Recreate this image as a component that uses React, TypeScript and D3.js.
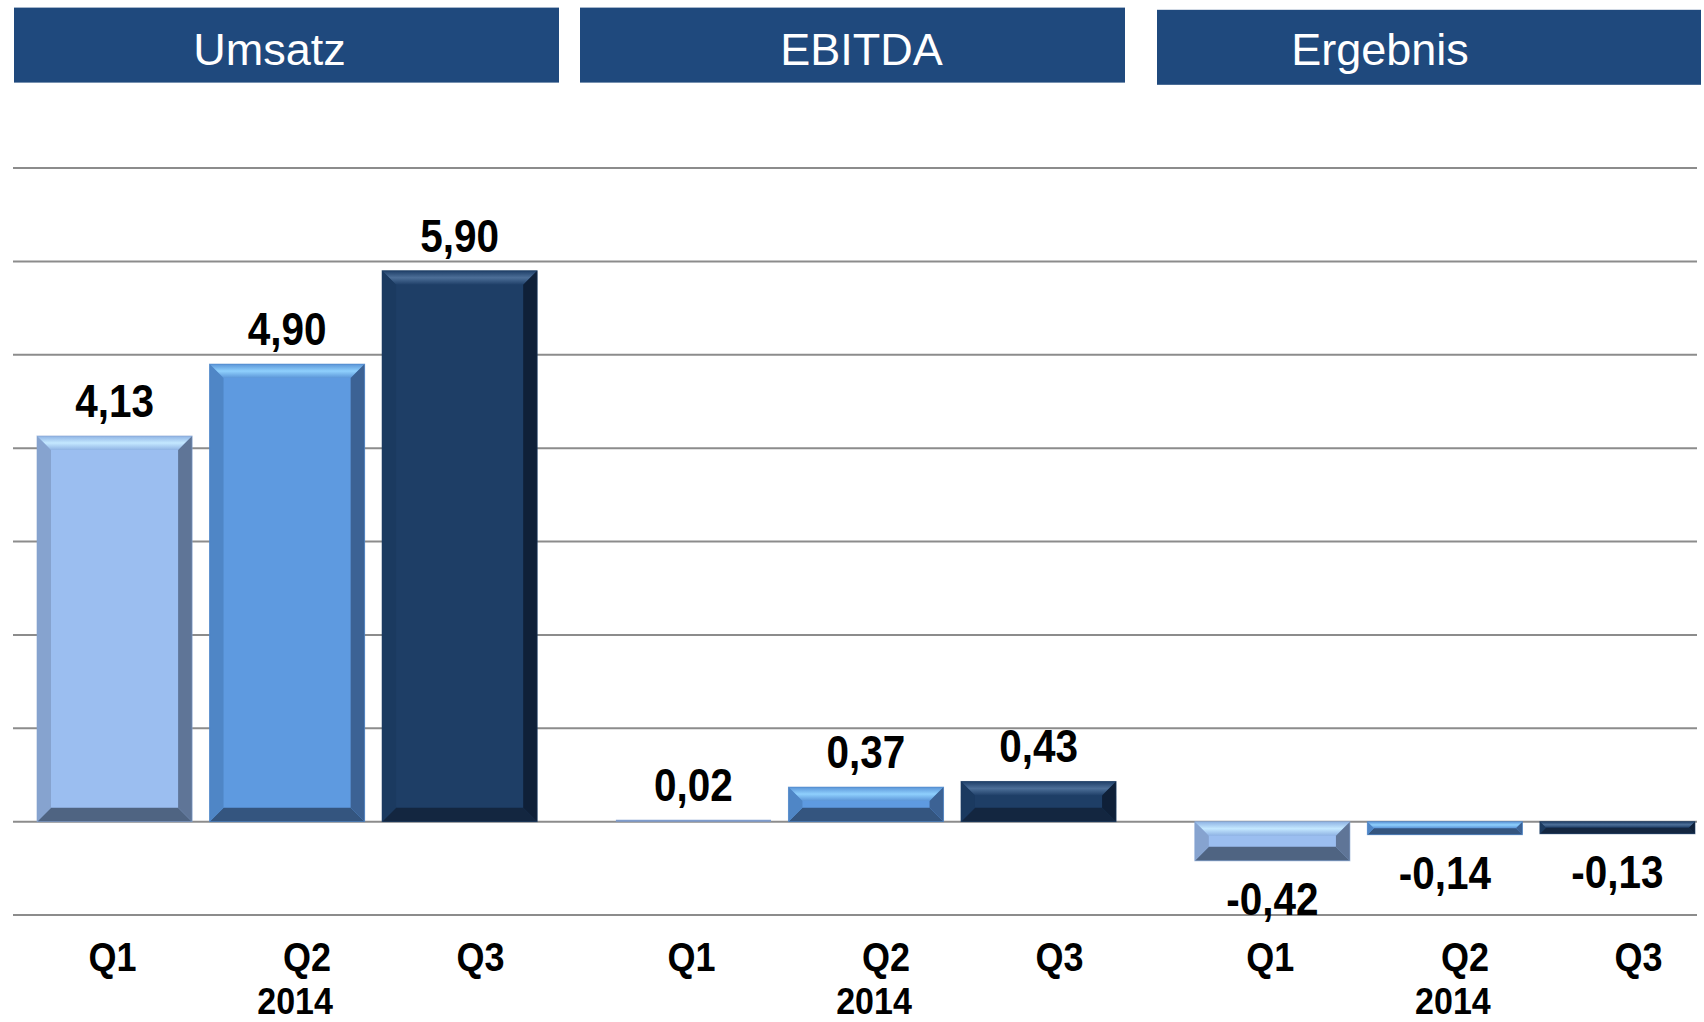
import React from "react";
import * as d3 from "d3";

const groups = ["Umsatz", "EBITDA", "Ergebnis"];
const quarters = ["Q1", "Q2", "Q3"];
const yearLabel = "2014";
const umsatz = [4.13, 4.9, 5.9];
const ebitda = [0.02, 0.37, 0.43];
const ergebnis = [-0.42, -0.14, -0.13];
const valueLabels = [
  ["4,13", "4,90", "5,90"],
  ["0,02", "0,37", "0,43"],
  ["-0,42", "-0,14", "-0,13"],
];
const gridTicks = [-1, 0, 1, 2, 3, 4, 5, 6, 7];

const seriesByGroup = [umsatz, ebitda, ergebnis];

const W = 1704;
const H = 1022;
const FONT = "'Liberation Sans', Arial, Helvetica, sans-serif";

const palette = [
  { face: "#9bbef0", topEdge: "#8fb3e4", topMid: "#c4e8ff", left: "#86a3cf", right: "#5f7597", bottom: "#4f6482", thin: "#7f9ccc" },
  { face: "#5e9ae0", topEdge: "#5b95d8", topMid: "#8fd0fd", left: "#4f86c6", right: "#3c6294", bottom: "#34557f", thin: "#4f86c6" },
  { face: "#1e3e66", topEdge: "#1f3f68", topMid: "#4d6f98", left: "#1b3a60", right: "#0f2038", bottom: "#132640", thin: "#1e3e66" },
];

const headerBoxes = [
  { x0: 14, x1: 559, y0: 7.6, y1: 82.6, dx: -17, base: 65 },
  { x0: 580, x1: 1125, y0: 7.6, y1: 82.6, dx: 9, base: 65 },
  { x0: 1157, x1: 1701, y0: 9.8, y1: 84.8, dx: -49, base: 65 },
];

const qLabelDx = [-2, 20, 21];
const yearDx = 8;

function Bar({ x, y, w, h, pi }: any) {
  const c = palette[pi];
  if (h < 4) {
    return <rect x={x} y={y} width={w} height={Math.max(h, 2)} fill={c.thin} />;
  }
  const b = Math.min(14, h / 2, w / 2);
  const pts = (arr: number[][]) => arr.map((p) => p.join(",")).join(" ");
  return (
    <g>
      <rect x={x} y={y} width={w} height={h} fill={c.face} />
      <polygon points={pts([[x, y], [x + w, y], [x + w - b, y + b], [x + b, y + b]])} fill={`url(#top${pi})`} />
      <polygon points={pts([[x, y + h], [x + w, y + h], [x + w - b, y + h - b], [x + b, y + h - b]])} fill={c.bottom} />
      <polygon points={pts([[x, y], [x + b, y + b], [x + b, y + h - b], [x, y + h]])} fill={c.left} />
      <polygon points={pts([[x + w, y], [x + w - b, y + b], [x + w - b, y + h - b], [x + w, y + h]])} fill={c.right} />
      <rect x={x} y={y} width={w} height={h} fill="none" stroke={c.left} strokeWidth={1} opacity={0.6} />
    </g>
  );
}

export default function App() {
  const y = d3.scaleLinear().domain([-1, 7]).range([915, 168]);
  const xg = d3.scaleBand<string>().domain(groups).range([37, 1695]).paddingInner(0.136).paddingOuter(0);
  const xq = d3.scaleBand<string>().domain(quarters).range([0, xg.bandwidth()]).paddingInner(0.101).paddingOuter(0);

  return (
    <svg width={W} height={H} style={{ position: "absolute", left: 0, top: 0, display: "block", background: "#fff" }}>
      <defs>
        {palette.map((c, i) => (
          <linearGradient key={i} id={`top${i}`} x1="0" y1="0" x2="0" y2="1">
            <stop offset="0%" stopColor={c.topEdge} />
            <stop offset="50%" stopColor={c.topMid} />
            <stop offset="100%" stopColor={c.topEdge} />
          </linearGradient>
        ))}
      </defs>
      <rect width={W} height={H} fill="#fff" />

      {headerBoxes.map((hb, i) => (
        <g key={groups[i]}>
          <rect x={hb.x0} y={hb.y0} width={hb.x1 - hb.x0} height={hb.y1 - hb.y0} fill="#1f497d" />
          <text x={(hb.x0 + hb.x1) / 2 + hb.dx} y={hb.base} textAnchor="middle" fill="#fff" fontFamily={FONT} fontSize={45}>
            {groups[i]}
          </text>
        </g>
      ))}

      {gridTicks.map((t) => (
        <line key={t} x1={13} x2={1697} y1={y(t)} y2={y(t)} stroke="#8c8c8c" strokeWidth={2} />
      ))}

      {groups.map((g, gi) => (
        <g key={g}>
          {quarters.map((q, qi) => {
            const v = seriesByGroup[gi][qi];
            const bx = (xg(g) as number) + (xq(q) as number);
            const bw = xq.bandwidth();
            const top = y(Math.max(v, 0));
            const bot = y(Math.min(v, 0));
            const cx = bx + bw / 2;
            const ly = v >= 0 ? top - 19 : bot + 54;
            return (
              <g key={q}>
                <Bar x={bx} y={top} w={bw} h={bot - top} pi={qi} />
                <text transform={`translate(${cx},${ly}) scale(0.88,1)`} textAnchor="middle" fontFamily={FONT} fontWeight="bold" fontSize={46} fill="#000">
                  {valueLabels[gi][qi]}
                </text>
                <text transform={`translate(${cx + qLabelDx[qi]},971) scale(0.9,1)`} textAnchor="middle" fontFamily={FONT} fontWeight="bold" fontSize={40} fill="#000">
                  {q}
                </text>
                {qi === 1 && (
                  <text transform={`translate(${cx + yearDx},1014) scale(0.92,1)`} textAnchor="middle" fontFamily={FONT} fontWeight="bold" fontSize={37} fill="#000">
                    {yearLabel}
                  </text>
                )}
              </g>
            );
          })}
        </g>
      ))}
    </svg>
  );
}
